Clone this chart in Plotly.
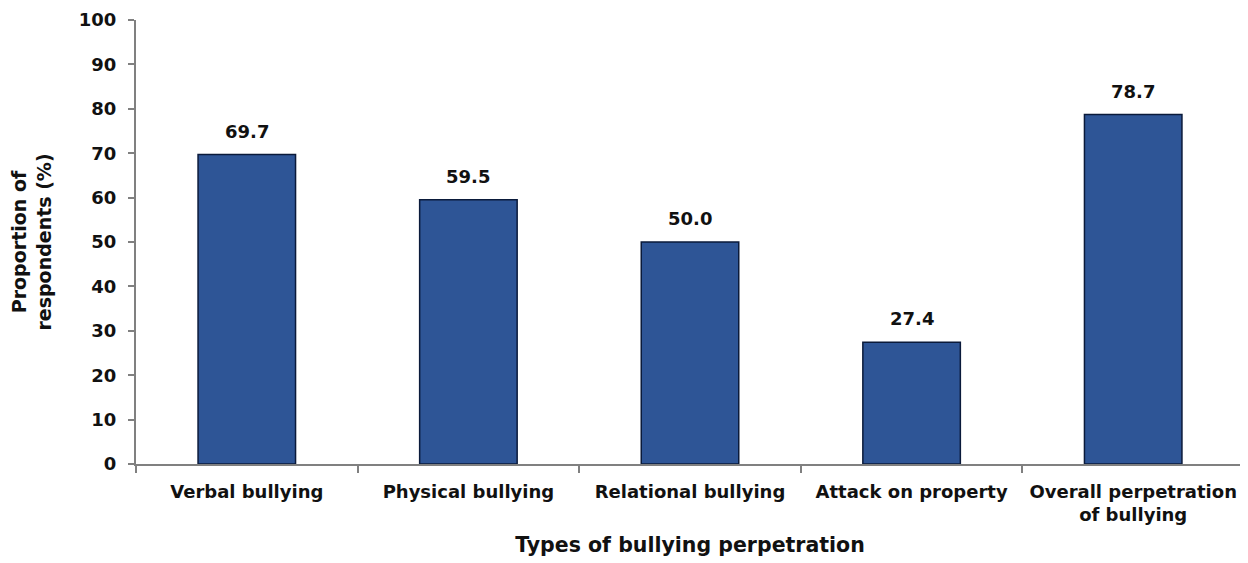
import plotly.graph_objects as go

categories = ["Verbal bullying", "Physical bullying", "Relational bullying",
              "Attack on property", "Overall perpetration<br>of bullying"]
values = [69.7, 59.5, 50.0, 27.4, 78.7]
y_ticks = list(range(0, 101, 10))

FONT = "DejaVu Sans"

fig = go.Figure(go.Bar(
    x=categories, y=values,
    marker=dict(color="#2E5596", line=dict(color="#0A1A3A", width=1.5)),
    width=0.44,
))

for c, v in zip(categories, values):
    fig.add_annotation(
        x=c, y=v, text=f"{v:.1f}", showarrow=False,
        yanchor="bottom", yshift=11,
        font=dict(family=FONT, size=18, color="#111111", weight="bold"),
    )

fig.update_layout(
    width=1240, height=555,
    margin=dict(l=128, r=4, t=12, b=99),
    paper_bgcolor="white", plot_bgcolor="white",
    showlegend=False,
    font=dict(family=FONT, size=18, color="#111111", weight="bold"),
    xaxis=dict(
        title=dict(text="Types of bullying perpetration",
                   font=dict(family=FONT, size=20.5, weight="bold"), standoff=14),
        showline=True, linecolor="#808080", linewidth=2,
        ticks="outside", tickson="boundaries", ticklen=7, tickcolor="#808080", tickwidth=1.5,
        tickfont=dict(family=FONT, size=18, weight="bold"),
        tickangle=0,
        ticklabelstandoff=10,
        showgrid=False, automargin=False,
    ),
    yaxis=dict(
        title=dict(text="Proportion of<br>respondents (%)",
                   font=dict(family=FONT, size=19, weight="bold"), standoff=22),
        range=[0, 100], tickvals=y_ticks,
        showline=True, linecolor="#808080", linewidth=2,
        ticks="outside", ticklen=6, tickcolor="#808080", tickwidth=1.5,
        tickfont=dict(family=FONT, size=18, weight="bold"),
        ticklabelstandoff=8,
        showgrid=False, zeroline=False, automargin=False,
    ),
)

fig.write_html("out.html")
